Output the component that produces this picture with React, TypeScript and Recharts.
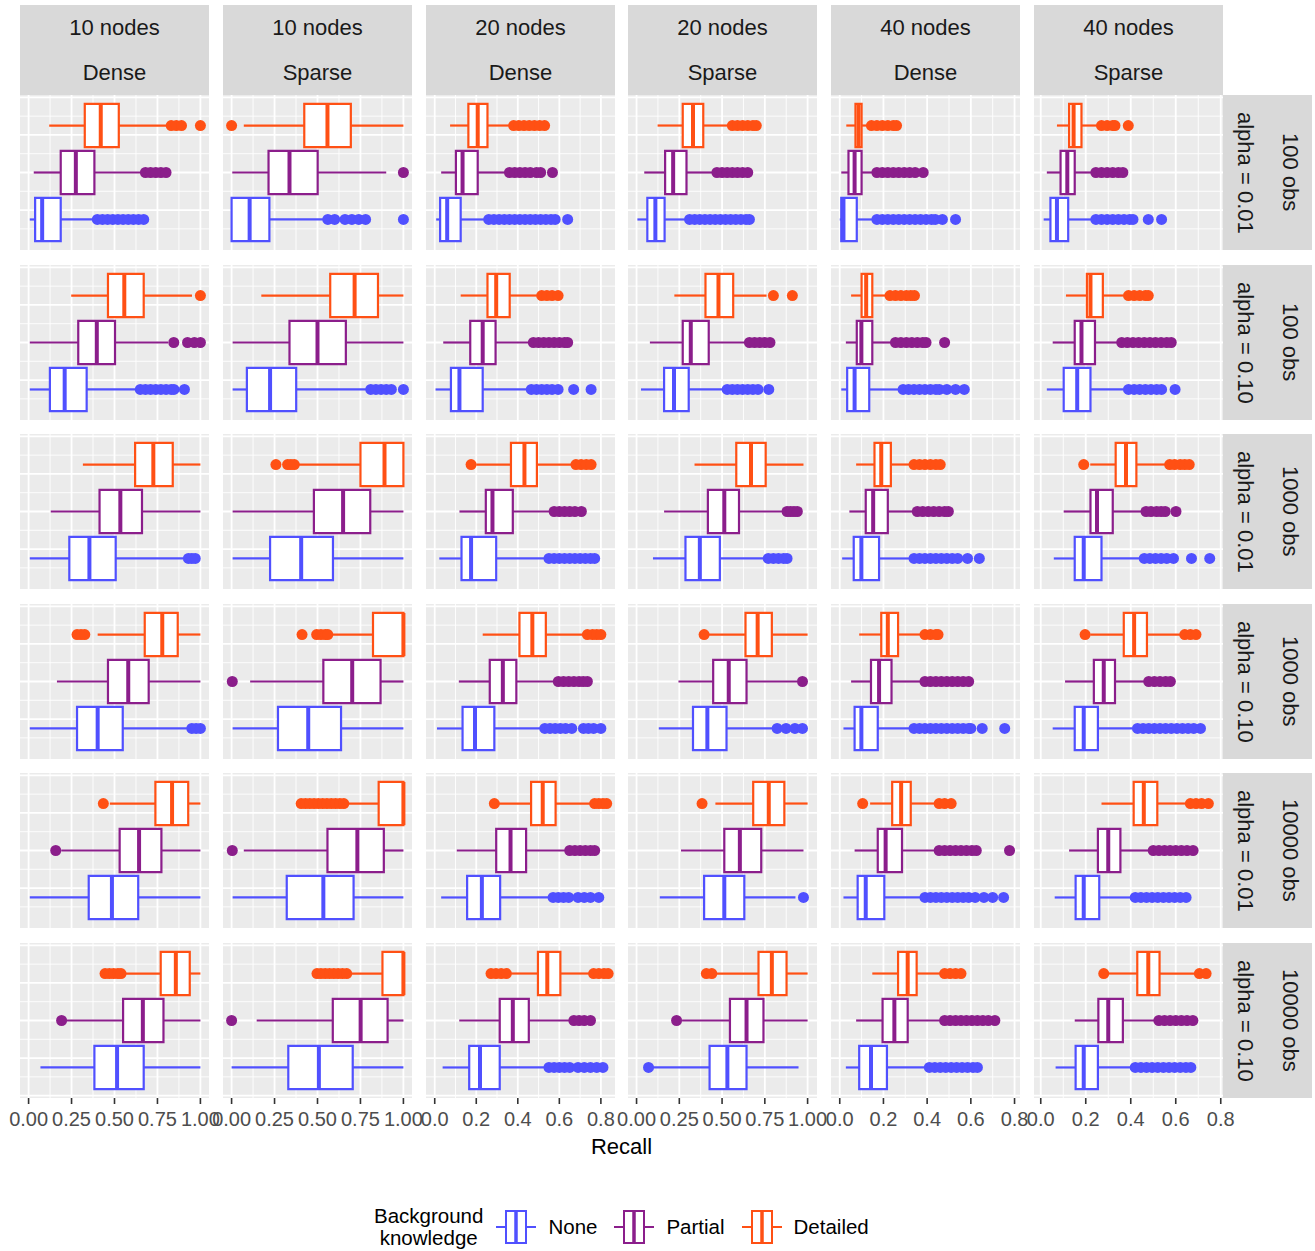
import React from 'react';
import {
  ScatterChart,
  Scatter,
  XAxis,
  YAxis,
  CartesianGrid,
  ReferenceArea,
  ReferenceLine,
} from 'recharts';

// [lower whisker, q1, median, q3, upper whisker, outliers]
type Box = [number, number, number, number, number, number[]];

const groups = ['None', 'Partial', 'Detailed'];
const groupColors = ['#5050FF', '#8B1E8B', '#FF5014'];

const nodeLabels = ['10 nodes', '10 nodes', '20 nodes', '20 nodes', '40 nodes', '40 nodes'];
const densityLabels = ['Dense', 'Sparse', 'Dense', 'Sparse', 'Dense', 'Sparse'];
const alphaLabels = ['alpha = 0.01', 'alpha = 0.10', 'alpha = 0.01', 'alpha = 0.10', 'alpha = 0.01', 'alpha = 0.10'];
const obsLabels = ['100 obs', '100 obs', '1000 obs', '1000 obs', '10000 obs', '10000 obs'];

const unitTicks = [0, 0.25, 0.5, 0.75, 1];
const unitMinor = [0.125, 0.375, 0.625, 0.875];
const narrowTicks = [0, 0.2, 0.4, 0.6, 0.8];
const narrowMinor = [0.1, 0.3, 0.5, 0.7];

// each panel: None, Partial, Detailed
const obs100a01: Box[][] = [
  [
    [0.007, 0.038, 0.079, 0.187, 0.383, [0.4, 0.43, 0.46, 0.49, 0.52, 0.55, 0.58, 0.61, 0.64, 0.67]],
    [0.03, 0.187, 0.275, 0.383, 0.665, [0.68, 0.71, 0.74, 0.77, 0.8]],
    [0.12, 0.327, 0.42, 0.525, 0.81, [0.83, 0.86, 0.89, 1.0]],
  ],
  [
    [0.0, 0.0, 0.105, 0.22, 0.54, [0.56, 0.6, 0.66, 0.7, 0.74, 0.78, 1.0]],
    [0.004, 0.215, 0.337, 0.501, 0.9, [1.0]],
    [0.071, 0.423, 0.558, 0.694, 1.0, [0.0]],
  ],
  [
    [0.007, 0.026, 0.06, 0.125, 0.24, [0.26, 0.285, 0.31, 0.335, 0.36, 0.385, 0.41, 0.435, 0.46, 0.485, 0.51, 0.535, 0.56, 0.58, 0.64]],
    [0.031, 0.102, 0.134, 0.207, 0.339, [0.36, 0.385, 0.41, 0.435, 0.46, 0.49, 0.51, 0.567]],
    [0.074, 0.162, 0.207, 0.254, 0.361, [0.38, 0.405, 0.43, 0.455, 0.48, 0.505, 0.529]],
  ],
  [
    [0.005, 0.063, 0.11, 0.164, 0.292, [0.31, 0.34, 0.37, 0.4, 0.43, 0.46, 0.49, 0.52, 0.55, 0.58, 0.61, 0.64, 0.66]],
    [0.045, 0.167, 0.214, 0.292, 0.448, [0.47, 0.5, 0.53, 0.56, 0.59, 0.62, 0.65]],
    [0.123, 0.27, 0.33, 0.39, 0.539, [0.56, 0.59, 0.62, 0.65, 0.68, 0.7]],
  ],
  [
    [0.0, 0.007, 0.017, 0.078, 0.15, [0.17, 0.195, 0.22, 0.245, 0.27, 0.295, 0.32, 0.345, 0.37, 0.395, 0.42, 0.437, 0.47, 0.53]],
    [0.007, 0.04, 0.068, 0.1, 0.153, [0.17, 0.195, 0.22, 0.245, 0.27, 0.295, 0.32, 0.345, 0.382]],
    [0.03, 0.072, 0.086, 0.1, 0.129, [0.145, 0.17, 0.195, 0.22, 0.245, 0.26]],
  ],
  [
    [0.013, 0.043, 0.072, 0.122, 0.225, [0.245, 0.27, 0.295, 0.32, 0.345, 0.37, 0.395, 0.41, 0.478, 0.537]],
    [0.027, 0.088, 0.118, 0.151, 0.225, [0.245, 0.27, 0.295, 0.32, 0.345, 0.365]],
    [0.072, 0.126, 0.146, 0.181, 0.25, [0.27, 0.295, 0.32, 0.33, 0.389]],
  ],
];

const obs100a10: Box[][] = [
  [
    [0.007, 0.124, 0.21, 0.338, 0.631, [0.65, 0.68, 0.71, 0.74, 0.77, 0.8, 0.83, 0.846, 0.907]],
    [0.007, 0.289, 0.397, 0.503, 0.812, [0.845, 0.925, 0.965, 1.0]],
    [0.248, 0.462, 0.557, 0.67, 0.951, [1.0]],
  ],
  [
    [0.006, 0.089, 0.224, 0.376, 0.788, [0.81, 0.84, 0.87, 0.9, 0.93, 1.0]],
    [0.006, 0.337, 0.5, 0.665, 1.0, []],
    [0.173, 0.574, 0.716, 0.852, 1.0, []],
  ],
  [
    [0.004, 0.078, 0.119, 0.231, 0.445, [0.465, 0.49, 0.515, 0.54, 0.565, 0.594, 0.669, 0.753]],
    [0.041, 0.171, 0.231, 0.293, 0.455, [0.475, 0.5, 0.525, 0.55, 0.575, 0.6, 0.625, 0.64]],
    [0.125, 0.254, 0.296, 0.361, 0.496, [0.515, 0.54, 0.565, 0.594]],
  ],
  [
    [0.026, 0.161, 0.219, 0.305, 0.508, [0.53, 0.56, 0.59, 0.62, 0.65, 0.68, 0.71, 0.773]],
    [0.078, 0.27, 0.317, 0.422, 0.635, [0.66, 0.69, 0.72, 0.75, 0.78]],
    [0.221, 0.403, 0.479, 0.565, 0.76, [0.8, 0.911]],
  ],
  [
    [0.007, 0.034, 0.068, 0.135, 0.271, [0.29, 0.315, 0.34, 0.365, 0.39, 0.415, 0.44, 0.456, 0.49, 0.53, 0.57]],
    [0.028, 0.078, 0.099, 0.149, 0.235, [0.255, 0.28, 0.305, 0.33, 0.355, 0.38, 0.395, 0.48]],
    [0.052, 0.1, 0.121, 0.149, 0.21, [0.23, 0.255, 0.28, 0.305, 0.325, 0.342]],
  ],
  [
    [0.027, 0.102, 0.162, 0.221, 0.369, [0.39, 0.415, 0.44, 0.465, 0.49, 0.515, 0.537, 0.597]],
    [0.053, 0.151, 0.181, 0.241, 0.34, [0.36, 0.385, 0.41, 0.435, 0.46, 0.485, 0.51, 0.535, 0.56, 0.58]],
    [0.112, 0.205, 0.221, 0.276, 0.369, [0.39, 0.415, 0.44, 0.465, 0.478]],
  ],
];

const obs1000a01: Box[][] = [
  [
    [0.007, 0.237, 0.354, 0.507, 0.9, [0.93, 0.95, 0.97]],
    [0.129, 0.413, 0.534, 0.66, 1.0, []],
    [0.316, 0.62, 0.726, 0.839, 1.0, []],
  ],
  [
    [0.006, 0.224, 0.405, 0.59, 1.0, []],
    [0.006, 0.479, 0.649, 0.807, 1.0, []],
    [0.382, 0.75, 0.89, 1.0, 1.0, [0.258, 0.326, 0.345, 0.365]],
  ],
  [
    [0.022, 0.129, 0.175, 0.296, 0.529, [0.55, 0.575, 0.6, 0.625, 0.65, 0.675, 0.7, 0.725, 0.75, 0.77]],
    [0.119, 0.246, 0.278, 0.376, 0.557, [0.575, 0.6, 0.625, 0.65, 0.675, 0.706]],
    [0.2, 0.367, 0.432, 0.492, 0.66, [0.175, 0.68, 0.705, 0.73, 0.753]],
  ],
  [
    [0.096, 0.286, 0.37, 0.487, 0.747, [0.77, 0.8, 0.83, 0.86, 0.88]],
    [0.161, 0.417, 0.513, 0.599, 0.859, [0.88, 0.9, 0.92, 0.94]],
    [0.339, 0.583, 0.669, 0.755, 0.976, []],
  ],
  [
    [0.011, 0.064, 0.099, 0.18, 0.321, [0.34, 0.365, 0.39, 0.415, 0.44, 0.465, 0.49, 0.515, 0.54, 0.585, 0.639]],
    [0.044, 0.119, 0.153, 0.22, 0.336, [0.355, 0.38, 0.405, 0.43, 0.455, 0.48, 0.497]],
    [0.075, 0.159, 0.19, 0.234, 0.321, [0.34, 0.365, 0.39, 0.415, 0.44, 0.46]],
  ],
  [
    [0.058, 0.151, 0.191, 0.27, 0.438, [0.46, 0.485, 0.51, 0.535, 0.56, 0.59, 0.67, 0.751]],
    [0.102, 0.221, 0.25, 0.32, 0.448, [0.468, 0.49, 0.515, 0.535, 0.553, 0.601]],
    [0.22, 0.333, 0.379, 0.425, 0.553, [0.191, 0.573, 0.595, 0.62, 0.64, 0.66]],
  ],
];

const obs1000a10: Box[][] = [
  [
    [0.007, 0.282, 0.402, 0.548, 0.925, [0.95, 0.975, 1.0]],
    [0.165, 0.462, 0.58, 0.699, 1.0, []],
    [0.402, 0.676, 0.778, 0.868, 1.0, [0.282, 0.305, 0.327]],
  ],
  [
    [0.006, 0.27, 0.446, 0.637, 1.0, []],
    [0.108, 0.534, 0.702, 0.867, 1.0, [0.004]],
    [0.574, 0.823, 1.0, 1.0, 1.0, [0.41, 0.495, 0.52, 0.545, 0.56]],
  ],
  [
    [0.011, 0.134, 0.194, 0.287, 0.511, [0.53, 0.555, 0.58, 0.605, 0.63, 0.66, 0.716, 0.74, 0.765, 0.8]],
    [0.116, 0.265, 0.328, 0.393, 0.576, [0.595, 0.62, 0.645, 0.67, 0.695, 0.715, 0.735]],
    [0.231, 0.408, 0.47, 0.535, 0.716, [0.735, 0.76, 0.78, 0.8]],
  ],
  [
    [0.13, 0.33, 0.414, 0.526, 0.812, [0.822, 0.874, 0.926, 0.97]],
    [0.245, 0.448, 0.539, 0.643, 0.94, [0.97]],
    [0.42, 0.637, 0.708, 0.791, 1.0, [0.395]],
  ],
  [
    [0.017, 0.068, 0.099, 0.174, 0.321, [0.34, 0.365, 0.39, 0.415, 0.44, 0.465, 0.49, 0.515, 0.54, 0.565, 0.59, 0.6, 0.652, 0.755]],
    [0.052, 0.143, 0.18, 0.237, 0.372, [0.39, 0.415, 0.44, 0.465, 0.49, 0.515, 0.54, 0.565, 0.59]],
    [0.089, 0.19, 0.22, 0.267, 0.372, [0.39, 0.415, 0.44, 0.45]],
  ],
  [
    [0.053, 0.151, 0.191, 0.254, 0.409, [0.43, 0.455, 0.48, 0.505, 0.53, 0.555, 0.58, 0.605, 0.63, 0.655, 0.68, 0.71]],
    [0.108, 0.236, 0.28, 0.33, 0.462, [0.48, 0.505, 0.53, 0.555, 0.576]],
    [0.22, 0.369, 0.415, 0.472, 0.62, [0.197, 0.64, 0.665, 0.69]],
  ],
];

const obs10000a01: Box[][] = [
  [
    [0.007, 0.35, 0.485, 0.638, 1.0, []],
    [0.19, 0.53, 0.643, 0.773, 1.0, [0.158]],
    [0.473, 0.738, 0.835, 0.929, 1.0, [0.435]],
  ],
  [
    [0.006, 0.321, 0.534, 0.71, 1.0, []],
    [0.071, 0.558, 0.732, 0.886, 1.0, [0.004]],
    [0.665, 0.856, 1.0, 1.0, 1.0, [0.405, 0.43, 0.455, 0.48, 0.505, 0.53, 0.555, 0.58, 0.605, 0.63, 0.653]],
  ],
  [
    [0.031, 0.156, 0.227, 0.315, 0.548, [0.57, 0.595, 0.62, 0.645, 0.69, 0.72, 0.75, 0.79]],
    [0.106, 0.296, 0.365, 0.44, 0.632, [0.65, 0.675, 0.7, 0.725, 0.75, 0.77]],
    [0.306, 0.464, 0.52, 0.582, 0.753, [0.287, 0.77, 0.79, 0.81, 0.828]],
  ],
  [
    [0.136, 0.395, 0.513, 0.63, 0.929, [0.976]],
    [0.26, 0.513, 0.604, 0.729, 0.976, []],
    [0.461, 0.682, 0.773, 0.864, 1.0, [0.383]],
  ],
  [
    [0.017, 0.082, 0.119, 0.204, 0.372, [0.39, 0.415, 0.44, 0.465, 0.49, 0.515, 0.54, 0.565, 0.59, 0.62, 0.66, 0.7, 0.75]],
    [0.068, 0.174, 0.21, 0.285, 0.437, [0.455, 0.48, 0.505, 0.53, 0.555, 0.58, 0.605, 0.625, 0.777]],
    [0.139, 0.24, 0.281, 0.325, 0.433, [0.105, 0.455, 0.48, 0.51]],
  ],
  [
    [0.062, 0.155, 0.191, 0.26, 0.399, [0.42, 0.445, 0.47, 0.495, 0.52, 0.545, 0.57, 0.595, 0.62, 0.646]],
    [0.126, 0.254, 0.3, 0.354, 0.478, [0.5, 0.525, 0.55, 0.575, 0.6, 0.625, 0.65, 0.677]],
    [0.27, 0.413, 0.458, 0.518, 0.646, [0.665, 0.69, 0.715, 0.745]],
  ],
];

const obs10000a10: Box[][] = [
  [
    [0.069, 0.383, 0.515, 0.67, 1.0, []],
    [0.215, 0.55, 0.665, 0.785, 1.0, [0.192]],
    [0.545, 0.769, 0.857, 0.938, 1.0, [0.445, 0.47, 0.495, 0.52, 0.538]],
  ],
  [
    [0.0, 0.33, 0.508, 0.705, 1.0, []],
    [0.146, 0.589, 0.751, 0.908, 1.0, [0.0]],
    [0.69, 0.878, 1.0, 1.0, 1.0, [0.497, 0.52, 0.545, 0.57, 0.595, 0.62, 0.645, 0.67]],
  ],
  [
    [0.038, 0.166, 0.218, 0.313, 0.529, [0.55, 0.575, 0.6, 0.625, 0.65, 0.69, 0.72, 0.75, 0.78, 0.81]],
    [0.118, 0.313, 0.376, 0.453, 0.653, [0.67, 0.695, 0.72, 0.75]],
    [0.357, 0.497, 0.542, 0.605, 0.748, [0.271, 0.295, 0.32, 0.345, 0.765, 0.79, 0.815, 0.835]],
  ],
  [
    [0.096, 0.427, 0.531, 0.643, 0.947, [0.07]],
    [0.266, 0.546, 0.643, 0.742, 1.0, [0.234]],
    [0.461, 0.713, 0.791, 0.877, 1.0, [0.408, 0.44]],
  ],
  [
    [0.028, 0.089, 0.143, 0.216, 0.393, [0.41, 0.435, 0.46, 0.485, 0.51, 0.535, 0.56, 0.585, 0.61, 0.63]],
    [0.075, 0.196, 0.25, 0.311, 0.463, [0.48, 0.505, 0.53, 0.555, 0.58, 0.605, 0.63, 0.655, 0.68, 0.71]],
    [0.149, 0.267, 0.311, 0.352, 0.463, [0.48, 0.505, 0.53, 0.555]],
  ],
  [
    [0.066, 0.155, 0.191, 0.254, 0.399, [0.42, 0.445, 0.47, 0.495, 0.52, 0.545, 0.57, 0.595, 0.62, 0.645, 0.667]],
    [0.151, 0.256, 0.3, 0.365, 0.508, [0.525, 0.55, 0.575, 0.6, 0.625, 0.65, 0.676]],
    [0.295, 0.429, 0.478, 0.528, 0.686, [0.28, 0.705, 0.735]],
  ],
];

const rows = [obs100a01, obs100a10, obs1000a01, obs1000a10, obs10000a01, obs10000a10];

// free x scale per column of facets
const colScales = [
  { domain: [-0.05, 1.05], major: unitTicks, minor: unitMinor, digits: 2 },
  { domain: [-0.05, 1.05], major: unitTicks, minor: unitMinor, digits: 2 },
  { domain: [-0.042, 0.868], major: narrowTicks, minor: narrowMinor, digits: 1 },
  { domain: [-0.05, 1.055], major: unitTicks, minor: unitMinor, digits: 2 },
  { domain: [-0.04, 0.825], major: narrowTicks, minor: narrowMinor, digits: 1 },
  { domain: [-0.03, 0.81], major: narrowTicks, minor: narrowMinor, digits: 1 },
];

const FONT = '"Liberation Sans", Arial, Helvetica, sans-serif';
const PANEL_W = 189;
const PANEL_H = 155;
const AXIS_H = 40;
const COL_X = [20, 223, 426, 628, 831, 1034];
const ROW_Y = [95, 265, 434, 604, 773, 943];
const STRIP = 90;

// dodged boxes sit on a hidden continuous y scale
const Y_DOMAIN = [-0.4125, 0.4125];
const yMajor = [-0.4, -0.2, 0, 0.2, 0.4];
const yMinor = [-0.3, -0.1, 0.1, 0.3];
const groupY = [-0.25, 0, 0.25];
const HALF_BOX = 0.115;

function Panel({ boxes, col, showAxis }: { boxes: Box[]; col: number; showAxis: boolean }) {
  const sc = colScales[col];
  return (
    <ScatterChart
      width={PANEL_W}
      height={PANEL_H + (showAxis ? AXIS_H : 0)}
      margin={{ top: 0, right: 0, bottom: 0, left: 0 }}
    >
      <CartesianGrid
        fill="#EBEBEB"
        stroke="#FFFFFF"
        strokeWidth={0.9}
        verticalValues={sc.minor}
        horizontalValues={yMinor}
      />
      <CartesianGrid
        stroke="#FFFFFF"
        strokeWidth={1.8}
        verticalValues={sc.major}
        horizontalValues={yMajor}
      />
      <XAxis
        type="number"
        dataKey="x"
        domain={sc.domain}
        allowDataOverflow
        ticks={sc.major}
        interval={0}
        hide={!showAxis}
        height={AXIS_H}
        axisLine={false}
        tickLine={{ stroke: '#333333', strokeWidth: 1.6 }}
        tickSize={6}
        tickMargin={8}
        tick={{ fill: '#4D4D4D', fontSize: 20 }}
        tickFormatter={(v: number) => v.toFixed(sc.digits)}
      />
      <YAxis type="number" dataKey="y" domain={Y_DOMAIN} allowDataOverflow hide />
      {boxes.map(([lo, q1, med, q3, hi], g) => {
        const y = groupY[g];
        const c = groupColors[g];
        return (
          <React.Fragment key={groups[g]}>
            <ReferenceLine
              segment={[{ x: lo, y }, { x: q1, y }]}
              stroke={c}
              strokeWidth={2.2}
            />
            <ReferenceLine
              segment={[{ x: q3, y }, { x: hi, y }]}
              stroke={c}
              strokeWidth={2.2}
            />
            <ReferenceArea
              x1={q1}
              x2={q3}
              y1={y - HALF_BOX}
              y2={y + HALF_BOX}
              fill="#FFFFFF"
              fillOpacity={1}
              stroke={c}
              strokeWidth={2.2}
            />
            <ReferenceLine
              segment={[{ x: med, y: y - HALF_BOX }, { x: med, y: y + HALF_BOX }]}
              stroke={c}
              strokeWidth={4}
            />
          </React.Fragment>
        );
      })}
      {boxes.map((b, g) =>
        b[5].length ? (
          <Scatter
            key={'out-' + groups[g]}
            data={b[5].map((v) => ({ x: v, y: groupY[g] }))}
            isAnimationActive={false}
            shape={(p: any) => <circle cx={p.cx} cy={p.cy} r={5.5} fill={groupColors[g]} />}
          />
        ) : null
      )}
    </ScatterChart>
  );
}

function LegendKey({ color }: { color: string }) {
  return (
    <svg width={42} height={42} style={{ display: 'block' }}>
      <line x1={1} y1={21} x2={11} y2={21} stroke={color} strokeWidth={2} />
      <line x1={31} y1={21} x2={41} y2={21} stroke={color} strokeWidth={2} />
      <rect x={11} y={5} width={20} height={32} fill="#fff" stroke={color} strokeWidth={2} />
      <line x1={21} y1={5} x2={21} y2={37} stroke={color} strokeWidth={3.5} />
    </svg>
  );
}

const stripStyle: React.CSSProperties = {
  position: 'absolute',
  background: '#D9D9D9',
  color: '#1A1A1A',
  fontSize: 22,
  display: 'flex',
};

export default function App() {
  return (
    <div
      style={{
        position: 'absolute',
        left: 0,
        top: 0,
        width: 1315,
        height: 1251,
        background: '#FFFFFF',
        fontFamily: FONT,
      }}
    >
      <style>{'.recharts-surface{overflow:visible}'}</style>

      {COL_X.map((x, c) => (
        <div
          key={'top' + c}
          style={{ ...stripStyle, left: x, top: ROW_Y[0] - STRIP, width: PANEL_W, height: STRIP, flexDirection: 'column' }}
        >
          <div style={{ height: STRIP / 2, display: 'flex', alignItems: 'center', justifyContent: 'center' }}>
            {nodeLabels[c]}
          </div>
          <div style={{ height: STRIP / 2, display: 'flex', alignItems: 'center', justifyContent: 'center' }}>
            {densityLabels[c]}
          </div>
        </div>
      ))}

      {ROW_Y.map((y, r) => (
        <div
          key={'right' + r}
          style={{ ...stripStyle, left: COL_X[5] + PANEL_W - 1, top: y, width: STRIP, height: PANEL_H, flexDirection: 'row' }}
        >
          <div style={{ width: STRIP / 2, display: 'flex', alignItems: 'center', justifyContent: 'center', writingMode: 'vertical-rl' }}>
            {alphaLabels[r]}
          </div>
          <div style={{ width: STRIP / 2, display: 'flex', alignItems: 'center', justifyContent: 'center', writingMode: 'vertical-rl' }}>
            {obsLabels[r]}
          </div>
        </div>
      ))}

      {rows.map((row, r) =>
        row.map((boxes, c) => (
          <div key={r + '-' + c} style={{ position: 'absolute', left: COL_X[c], top: ROW_Y[r] }}>
            <Panel boxes={boxes} col={c} showAxis={r === rows.length - 1} />
          </div>
        ))
      )}

      <div
        style={{
          position: 'absolute',
          left: COL_X[0],
          width: COL_X[5] + PANEL_W - COL_X[0],
          top: 1134,
          textAlign: 'center',
          fontSize: 22,
          color: '#000',
        }}
      >
        Recall
      </div>

      <div
        style={{
          position: 'absolute',
          top: 1205,
          left: 374,
          display: 'flex',
          alignItems: 'center',
          fontSize: 20.5,
          color: '#000',
        }}
      >
        <div style={{ textAlign: 'center', lineHeight: '22px', marginRight: 12 }}>
          Background
          <br />
          knowledge
        </div>
        {groups.map((g, i) => (
          <div key={g} style={{ display: 'flex', alignItems: 'center', marginRight: 16 }}>
            <LegendKey color={groupColors[i]} />
            <span style={{ marginLeft: 11 }}>{g}</span>
          </div>
        ))}
      </div>
    </div>
  );
}
